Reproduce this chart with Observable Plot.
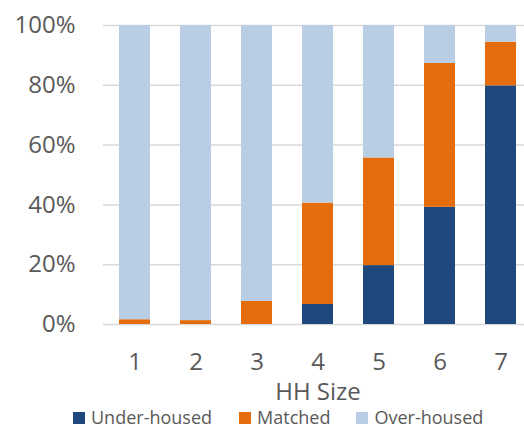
<!DOCTYPE html>
<html><head><meta charset="utf-8">
<script src="https://cdn.jsdelivr.net/npm/d3@7"></script>
<script src="https://cdn.jsdelivr.net/npm/@observablehq/plot@0.6"></script>
<style>
html,body{margin:0;padding:0;background:#fff;overflow:hidden;}
#chart{position:relative;width:524px;height:426px;overflow:hidden;font-family:"Open Sans",sans-serif;}
#legend{position:absolute;left:73px;top:409px;display:flex;font-size:18px;line-height:16px;color:#595959;white-space:nowrap;}
#legend .item{display:flex;align-items:baseline;}
#legend .sw{display:inline-block;width:12px;height:12px;margin-right:6px;}
</style></head><body><div id="chart"></div>
<script>
const sizes = ["1","2","3","4","5","6","7"];
const seriesNames = ["Under-housed","Matched","Over-housed"];
const underHoused = [0, 0, 0, 6.7, 19.7, 39.2, 79.8];
const matched = [1.6, 1.3, 7.7, 33.9, 36.0, 48.1, 14.6];
const overHoused = [98.4, 98.7, 92.3, 59.4, 44.3, 12.7, 5.6];
const colors = ["#1F497D","#E46C0A","#B9CDE5"];
const yTicks = [0,20,40,60,80,100];
const xTitle = "HH Size";

const series = [underHoused, matched, overHoused];
const rows = [];
sizes.forEach((s,i)=>{
  seriesNames.forEach((g,j)=>rows.push({size:s, group:g, value:series[j][i]}));
});

const plot = Plot.plot({
  width:524, height:404, marginTop:25, marginBottom:80, marginLeft:103, marginRight:-8,
  style:{fontFamily:'"Open Sans", sans-serif', background:"#fff", overflow:"visible"},
  x:{domain:sizes, paddingInner:0.5, paddingOuter:0.25},
  y:{domain:[0,100]},
  color:{domain:seriesNames, range:colors},
  marks:[
    Plot.ruleY(yTicks,{stroke:"#d9d9d9", strokeWidth:1.5}),
    Plot.barY(rows,{x:"size", y:"value", fill:"group", order:seriesNames}),
    Plot.axisY({ticks:yTicks, tickSize:0, tickPadding:28, tickFormat:d=>d+"%", fontSize:24, fill:"#595959", label:null}),
    Plot.axisX({tickSize:0, tickPadding:28, fontSize:24, fill:"#595959", label:xTitle, labelAnchor:"center", labelOffset:75})
  ]
});
const chart = document.getElementById("chart");
chart.appendChild(plot);

const legend = document.createElement("div");
legend.id = "legend";
const gaps = [27, 26, 0];
seriesNames.forEach((n,i)=>{
  const it = document.createElement("span");
  it.className = "item";
  it.style.marginRight = gaps[i] + "px";
  const sw = document.createElement("span");
  sw.className = "sw";
  sw.style.background = colors[i];
  it.appendChild(sw);
  it.appendChild(document.createTextNode(n));
  legend.appendChild(it);
});
chart.appendChild(legend);
</script></body></html>
